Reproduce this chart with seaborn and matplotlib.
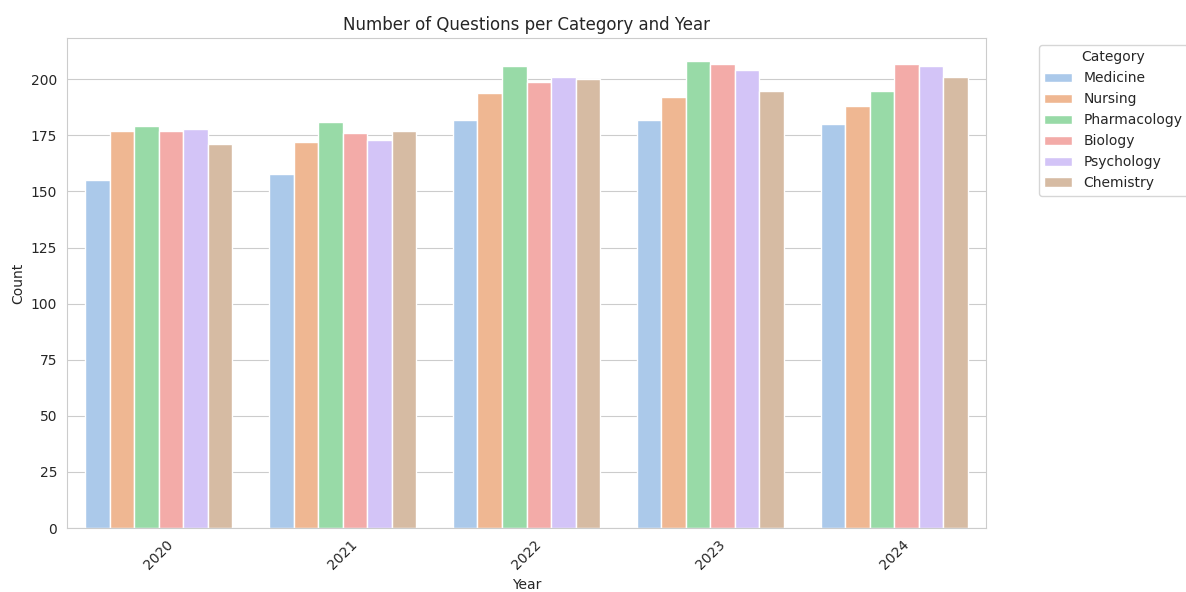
import matplotlib
matplotlib.use("Agg")
import matplotlib.pyplot as plt
import seaborn as sns
import pandas as pd

years = ["2020", "2021", "2022", "2023", "2024"]
categories = ["Medicine", "Nursing", "Pharmacology", "Biology", "Psychology", "Chemistry"]
medicine = [155, 158, 182, 182, 180]
nursing = [177, 172, 194, 192, 188]
pharmacology = [179, 181, 206, 208, 195]
biology = [177, 176, 199, 207, 207]
psychology = [178, 173, 201, 204, 206]
chemistry = [171, 177, 200, 195, 201]

series = [medicine, nursing, pharmacology, biology, psychology, chemistry]
rows = []
for cat, vals in zip(categories, series):
    for y, v in zip(years, vals):
        rows.append({"Year": y, "Category": cat, "Count": v})
df = pd.DataFrame(rows)

sns.set_style("whitegrid")
fig = plt.figure(figsize=(11.86, 5.92), dpi=100)
ax = fig.add_axes([67 / 1186, 1 - 528 / 592, (986 - 67) / 1186, (528 - 38) / 592])
sns.barplot(data=df, x="Year", y="Count", hue="Category", order=years,
            hue_order=categories, palette="pastel", ax=ax)
ax.set_title("Number of Questions per Category and Year")
ax.set_xlabel("Year")
ax.set_ylabel("Count")
plt.setp(ax.get_xticklabels(), rotation=45)
ax.legend(title="Category", bbox_to_anchor=(1.05, 1), loc="upper left")
fig.savefig("out.png", dpi=100)
